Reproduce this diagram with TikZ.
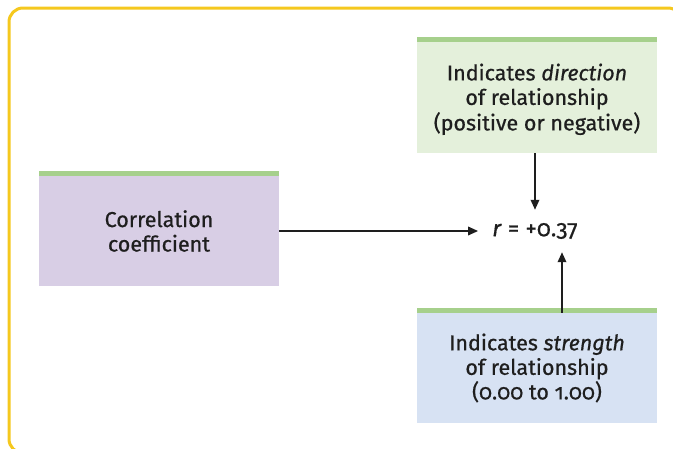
\documentclass[tikz,border=0pt]{standalone}
\usepackage{fontspec}
\setmainfont{Fira Sans}[Numbers=OldStyle, FakeBold=0.7]
\usetikzlibrary{arrows.meta}
\definecolor{frameyellow}{HTML}{F5C81E}
\definecolor{stripgreen}{HTML}{A6D08C}
\definecolor{fillgreen}{HTML}{E4F0DB}
\definecolor{fillpurple}{HTML}{D8CEE5}
\definecolor{fillblue}{HTML}{D7E2F3}
\definecolor{ink}{HTML}{1E1E1E}
\tikzset{
  panel/.style={draw=none, minimum width=240pt, inner sep=0pt, align=center,
    text=ink, font=\fontsize{21.5}{24.5}\selectfont},
  strip/.style={fill=stripgreen},
  arr/.style={-{Triangle[length=10pt,width=8.5pt]}, line width=1.8pt, draw=ink},
}
\begin{document}
\begin{tikzpicture}[x=1pt,y=-1pt]
  \useasboundingbox (0,0) rectangle (673,448);
  \begin{scope}
    \clip (0,0) rectangle (673,448);
    % outer frame: square top-left, rounded top-right and bottom-left
    \draw[frameyellow, line width=3pt, rounded corners=14pt]
      (700,453) -- (9,453) -- (9,8) -- (682,8) -- (682,300);
  \end{scope}

  % panels (body below the green top strip)
  \node[panel, fill=fillgreen, minimum height=111pt] (dir) at (537,97.5)
    {\raisebox{-3pt}[\height][\depth]{\begin{tabular}{@{}c@{}}Indicates \textit{direction}\\of relationship\\(positive or negative)\end{tabular}}};
  \node[panel, fill=fillpurple, minimum height=110pt] (corr) at (159,231)
    {Correlation\\coefficient};
  \node[panel, fill=fillblue, minimum height=110pt] (str) at (537,368)
    {Indicates \textit{strength}\\of relationship\\(0.00 to 1.00)};

  % green strips along the top edges
  \foreach \n in {dir,corr,str}
    \fill[strip] (\n.north west) rectangle ([yshift=5pt]\n.north east);

  % the coefficient value
  \node[inner xsep=14pt, inner ysep=0pt, minimum height=42pt, text=ink,
        font=\fontsize{23}{26}\selectfont] (r) at (535,231)
    {\textit{r} = +0.37};

  \coordinate (up) at (562,0);
  \draw[arr] (corr.east) -- (r.west);
  \draw[arr] (dir.south -| r.north) -- (r.north);
  \draw[arr] (str.north -| up) -- (r.south -| up);
\end{tikzpicture}
\end{document}
